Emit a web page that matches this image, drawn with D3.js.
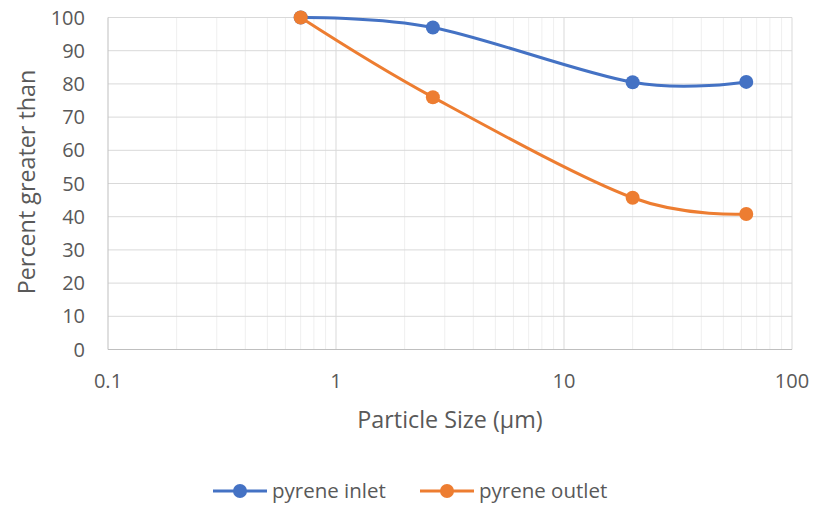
<!DOCTYPE html>
<html>
<head>
<meta charset="utf-8">
<script src="https://cdn.jsdelivr.net/npm/d3@7"></script>
<style>
  body { margin: 0; background: #fff; }
  svg text { font-family: "Open Sans", "Noto Sans", sans-serif; fill: #595959; }
</style>
</head>
<body>
<svg id="chart" width="828" height="508"></svg>
<script>
// Particle size (µm) and cumulative percent greater than
const particleSize = [0.7, 2.66, 20, 63];
const pyreneInlet  = [100, 97, 80.5, 80.6];
const pyreneOutlet = [100, 76, 45.7, 40.8];
const seriesNames  = ["pyrene inlet", "pyrene outlet"];
const seriesColors = ["#4472c4", "#ed7d31"];
const yTicks = [0, 10, 20, 30, 40, 50, 60, 70, 80, 90, 100];
const xTicks = [0.1, 1, 10, 100];

const svg = d3.select("#chart");
const plotLeft = 108, plotRight = 792, plotTop = 17.5, plotBottom = 349.5;

const x = d3.scaleLog().domain([0.1, 100]).range([plotLeft, plotRight]);
const y = d3.scaleLinear().domain([0, 100]).range([plotBottom, plotTop]);

// minor vertical gridlines (2..9 in each decade)
const minor = [];
[0.1, 1, 10].forEach(d => { for (let k = 2; k <= 9; k++) minor.push(d * k); });
svg.append("g").selectAll("line").data(minor).join("line")
  .attr("x1", d => x(d)).attr("x2", d => x(d))
  .attr("y1", plotTop).attr("y2", plotBottom)
  .attr("stroke", "#efefef").attr("stroke-width", 1);

// horizontal gridlines
svg.append("g").selectAll("line").data(yTicks.filter(d => d > 0)).join("line")
  .attr("x1", plotLeft).attr("x2", plotRight)
  .attr("y1", d => y(d)).attr("y2", d => y(d))
  .attr("stroke", "#d9d9d9").attr("stroke-width", 1);

// major vertical gridlines
svg.append("g").selectAll("line").data(xTicks.slice(1)).join("line")
  .attr("x1", d => x(d)).attr("x2", d => x(d))
  .attr("y1", plotTop).attr("y2", plotBottom)
  .attr("stroke", "#d9d9d9").attr("stroke-width", 1);

// axis lines
svg.append("line").attr("x1", plotLeft).attr("x2", plotLeft).attr("y1", plotTop).attr("y2", plotBottom)
  .attr("stroke", "#bfbfbf").attr("stroke-width", 1);
svg.append("line").attr("x1", plotLeft).attr("x2", plotRight).attr("y1", plotBottom).attr("y2", plotBottom)
  .attr("stroke", "#bfbfbf").attr("stroke-width", 1);

// y tick labels
svg.append("g").selectAll("text").data(yTicks).join("text")
  .attr("x", 85).attr("y", d => y(d)).attr("dy", "0.35em")
  .attr("text-anchor", "end").attr("font-size", 20)
  .text(d => d);

// x tick labels
svg.append("g").selectAll("text").data(xTicks).join("text")
  .attr("x", d => x(d)).attr("y", 388)
  .attr("text-anchor", "middle").attr("font-size", 20)
  .text(d => d3.format("~g")(d));

// axis titles
svg.append("text").attr("x", 450).attr("y", 428).attr("text-anchor", "middle")
  .attr("font-size", 23.3).text("Particle Size (µm)");
svg.append("text").attr("transform", "translate(35,182) rotate(-90)")
  .attr("text-anchor", "middle").attr("font-size", 23.3).text("Percent greater than");

// series
const series = [pyreneInlet, pyreneOutlet];
const line = d3.line().x(d => x(d[0])).y(d => y(d[1])).curve(d3.curveCardinal.tension(0));

series.forEach((vals, i) => {
  const pts = particleSize.map((s, j) => [s, vals[j]]);
  const g = svg.append("g");
  g.append("path").datum(pts).attr("d", line)
    .attr("fill", "none").attr("stroke", seriesColors[i]).attr("stroke-width", 3)
    .attr("stroke-linecap", "round");
  g.selectAll("circle").data(pts).join("circle")
    .attr("cx", d => x(d[0])).attr("cy", d => y(d[1])).attr("r", 7)
    .attr("fill", seriesColors[i]);
});

// legend
const legendX = [213, 420];
seriesNames.forEach((name, i) => {
  const g = svg.append("g").attr("transform", `translate(${legendX[i]},491)`);
  g.append("line").attr("x1", 0).attr("x2", 54).attr("y1", 0).attr("y2", 0)
    .attr("stroke", seriesColors[i]).attr("stroke-width", 3);
  g.append("circle").attr("cx", 27).attr("cy", 0).attr("r", 7).attr("fill", seriesColors[i]);
  g.append("text").attr("x", 59).attr("y", 0).attr("dy", "0.35em")
    .attr("font-size", 20.5).text(name);
});
</script>
</body>
</html>
